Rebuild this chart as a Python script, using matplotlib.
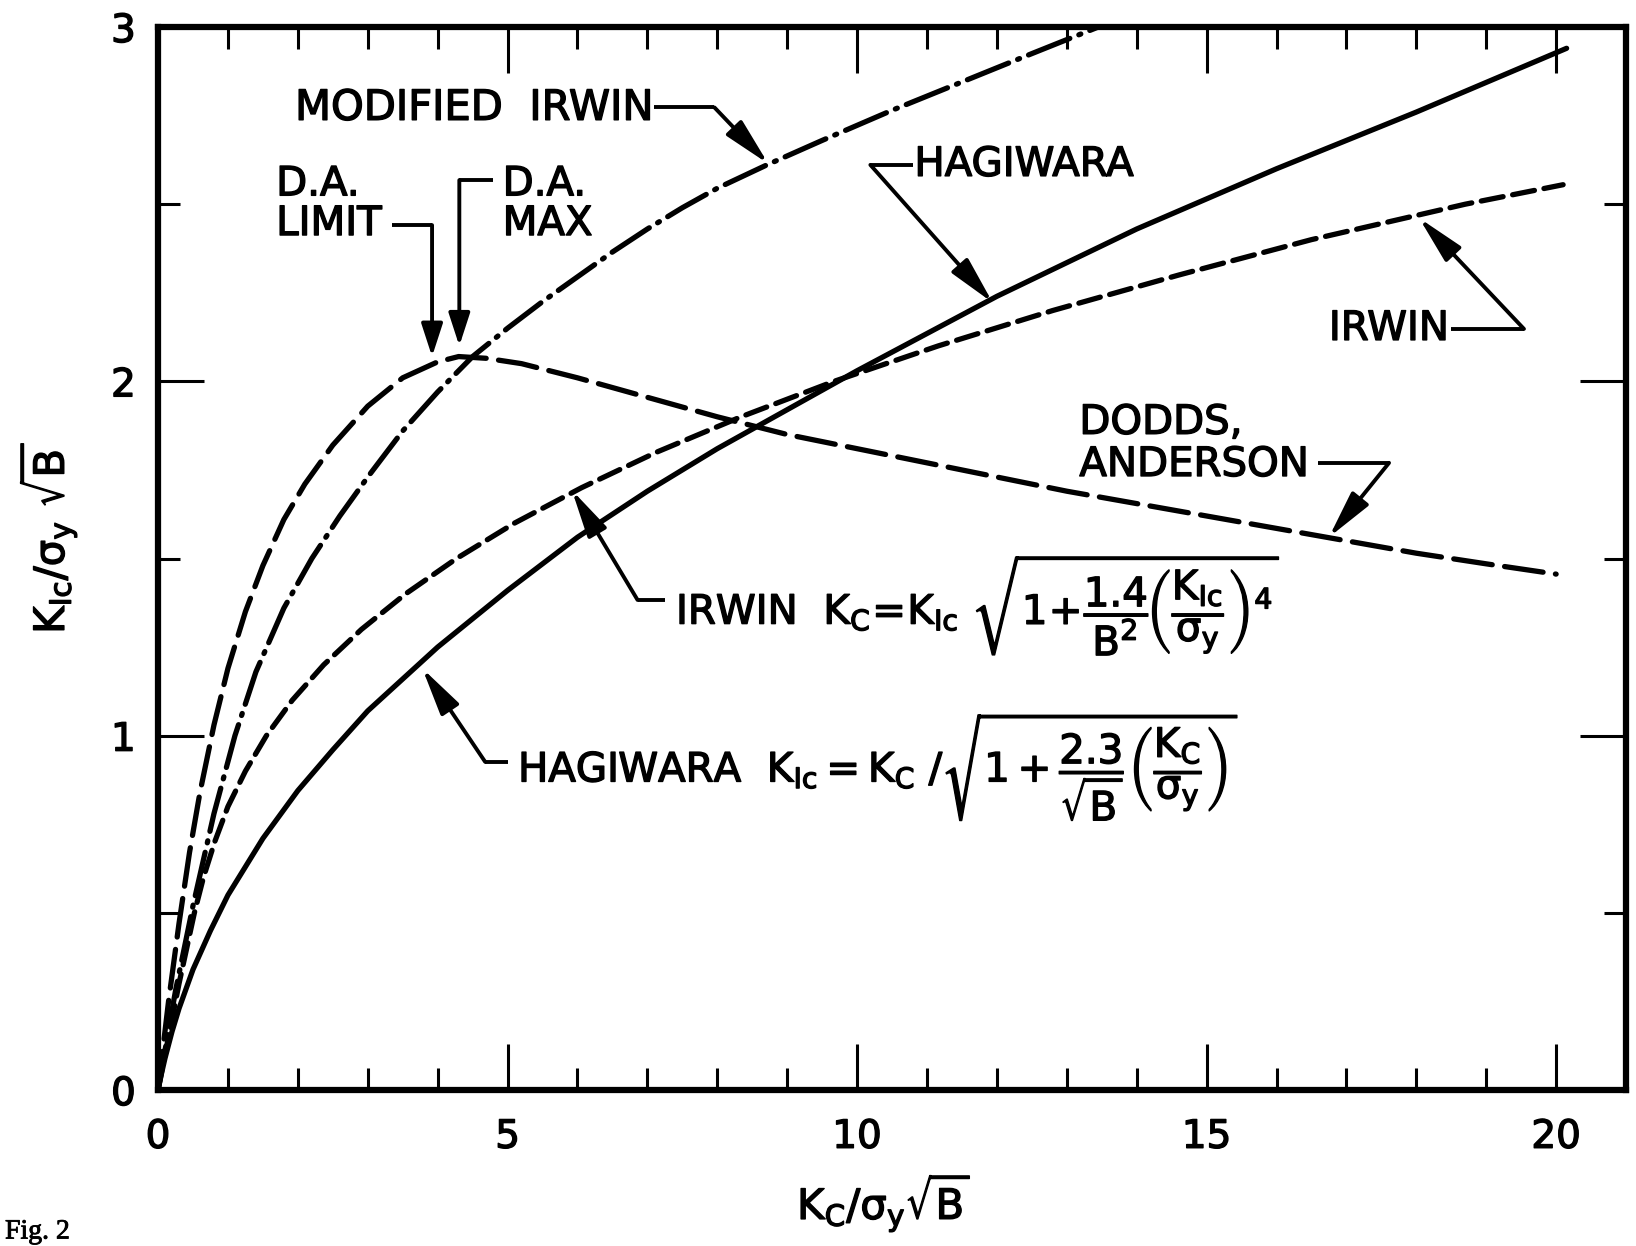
"""Plastic-zone correction curves: K_Ic vs K_c, both normalised by sigma_y*sqrt(B)."""

import matplotlib
matplotlib.use("Agg")
import matplotlib.pyplot as plt
import matplotlib.patheffects as pe
from matplotlib.ticker import MultipleLocator

plt.rcParams.update({
    'font.family': 'DejaVu Sans',
    'font.size': 28,
    'mathtext.fontset': 'dejavusans',
    'mathtext.default': 'regular',
    'lines.scale_dashes': False,
})

# curves, x = Kc/(sy*sqrt(B)), y = KIc/(sy*sqrt(B))
hagiwara_x = [0, 0.05, 0.1, 0.2, 0.3, 0.5, 0.75, 1, 1.5, 2, 2.5, 3, 3.5, 4, 5, 6, 7, 8,
              9, 10, 12, 14, 16, 18, 20.15]
hagiwara_y = [0, 0.047, 0.09, 0.165, 0.23, 0.34, 0.45, 0.55, 0.71, 0.845, 0.96, 1.07,
              1.16, 1.25, 1.41, 1.56, 1.69, 1.81, 1.92, 2.03, 2.24, 2.43, 2.60, 2.76, 2.94]

irwin_x = [0, 0.1, 0.2, 0.3, 0.41, 0.52, 0.65, 0.81, 1.0, 1.25, 1.55, 1.92, 2.37, 2.91,
           3.54, 4.27, 5.1, 6.06, 7.13, 8.34, 9.67, 11.16, 12.8, 14.6, 16.5, 18.7, 20.1]
irwin_y = [0, 0.1, 0.2, 0.3, 0.4, 0.5, 0.6, 0.7, 0.8, 0.9, 1.0, 1.1, 1.2, 1.3, 1.4, 1.5,
           1.6, 1.7, 1.8, 1.9, 2.0, 2.1, 2.2, 2.3, 2.4, 2.5, 2.555]

mod_irwin_x = [0, 0.25, 0.5, 0.8, 1.1, 1.4, 1.8, 2.2, 2.6, 3.0, 3.5, 4.0, 4.5, 5.0, 5.5,
               6.0, 6.5, 7.0, 7.5, 8.0, 8.7, 9.5, 10.5, 11.5, 12.5, 13.45]
mod_irwin_y = [0, 0.28, 0.52, 0.78, 1.0, 1.18, 1.36, 1.5, 1.62, 1.73, 1.86, 1.97, 2.07,
               2.15, 2.225, 2.295, 2.365, 2.43, 2.49, 2.545, 2.61, 2.68, 2.765, 2.845,
               2.925, 3.0]

da_x = [0, 0.15, 0.3, 0.45, 0.6, 0.8, 1.0, 1.25, 1.5, 1.8, 2.1, 2.5, 3.0, 3.5, 4.0, 4.3,
        4.7, 5.2, 6.0, 7.0, 8.0, 9.0, 10.0, 11.0, 12.0, 13.0, 14.0, 15.0, 16.0, 17.0,
        18.0, 19.0, 20.0]
da_y = [0, 0.25, 0.47, 0.67, 0.84, 1.03, 1.19, 1.35, 1.48, 1.61, 1.71, 1.82, 1.93, 2.01,
        2.055, 2.07, 2.065, 2.05, 2.01, 1.955, 1.90, 1.85, 1.81, 1.77, 1.73, 1.69, 1.655,
        1.62, 1.585, 1.55, 1.515, 1.485, 1.456]

fig = plt.figure(figsize=(16.36, 12.46), dpi=100)
ax = fig.add_axes([0.0966, 0.1252, 0.8973, 0.8531])

lw = 3.8
ax.plot(hagiwara_x, hagiwara_y, color='k', lw=lw, solid_capstyle='round')
ax.plot(irwin_x, irwin_y, color='k', lw=lw, dashes=(16, 7), dash_capstyle='round')
ax.plot(mod_irwin_x, mod_irwin_y, color='k', lw=lw, dashes=(32, 7, 1.5, 7),
        dash_capstyle='round')
ax.plot(da_x, da_y, color='k', lw=lw, dashes=(28, 9), dash_capstyle='round')

ax.set_xlim(0, 21)
ax.set_ylim(0, 3)
ax.xaxis.set_major_locator(MultipleLocator(5))
ax.xaxis.set_minor_locator(MultipleLocator(1))
ax.yaxis.set_major_locator(MultipleLocator(1))
ax.yaxis.set_minor_locator(MultipleLocator(0.5))
ax.tick_params(which='both', direction='in', top=True, right=True, width=2.2,
               labelsize=28)
ax.tick_params(which='major', length=33)
ax.tick_params(which='minor', length=16)
ax.tick_params(axis='x', pad=20)
ax.tick_params(axis='y', pad=16)
for s in ax.spines.values():
    s.set_linewidth(4.5)

ink = [pe.withStroke(linewidth=1.0, foreground='k')]

fig.text(884 / 1636, 1 - 1203 / 1246, r'$K_C/\sigma_y\sqrt{B}$', fontsize=30,
         ha='center', va='center', path_effects=ink)
fig.text(48 / 1636, 1 - 538 / 1246, r'$K_{Ic}/\sigma_y\ \sqrt{B}$', fontsize=30,
         ha='center', va='center', rotation=90, path_effects=ink)
fig.text(5 / 1636, 1 - 1232 / 1246, 'Fig. 2', family='Liberation Serif', fontsize=20,
         ha='left', va='center', path_effects=[pe.withStroke(linewidth=0.6, foreground='k')])
for lab in ax.get_xticklabels() + ax.get_yticklabels():
    lab.set_path_effects(ink)


def leader(path, tip, head=2.9):
    xs, ys = zip(*path)
    ax.plot(xs, ys, color='k', lw=2.8, solid_capstyle='butt', solid_joinstyle='miter')
    ax.annotate('', xy=tip, xytext=path[-1],
                arrowprops=dict(arrowstyle=f'-|>,head_length={head},head_width=0.65',
                                mutation_scale=10, color='k', lw=2.8,
                                shrinkA=0, shrinkB=0))


txt = dict(fontsize=29, va='center', path_effects=ink)

ax.text(1.96, 2.772, 'MODIFIED  IRWIN', ha='left', fontsize=30, va='center',
        path_effects=ink)
leader([(7.1, 2.773), (7.96, 2.773)], (8.73, 2.614))

ax.text(10.82, 2.611, 'HAGIWARA', ha='left', **txt)
leader([(10.80, 2.611), (10.19, 2.611)], (11.94, 2.222))

ax.text(1.69, 2.556, 'D.A.', ha='left', **txt)
ax.text(1.69, 2.444, 'LIMIT', ha='left', **txt)
leader([(3.35, 2.441), (3.92, 2.441)], (3.92, 2.07), head=2.0)

ax.text(4.93, 2.556, 'D.A.', ha='left', **txt)
ax.text(4.93, 2.444, 'MAX', ha='left', **txt)
leader([(4.79, 2.568), (4.31, 2.568)], (4.31, 2.10), head=2.0)

ax.text(18.47, 2.148, 'IRWIN', ha='right', **txt)
leader([(18.5, 2.148), (19.54, 2.148)], (18.04, 2.461))

ax.text(13.18, 1.883, 'DODDS,', ha='left', **txt)
ax.text(13.18, 1.764, 'ANDERSON', ha='left', **txt)
leader([(16.6, 1.770), (17.61, 1.770)], (16.75, 1.56))

ax.text(7.41, 1.37,
        r'IRWIN  $K_C\!=\!K_{Ic}\ \sqrt{1\!+\!\dfrac{1.4}{B^2}\!\left(\dfrac{K_{Ic}}{\sigma_y}\right)^4}$',
        ha='left', **txt)
leader([(7.25, 1.383), (6.86, 1.383)], (5.92, 1.693))

ax.text(5.15, 0.912,
        r'HAGIWARA  $K_{Ic} = K_C\ /\sqrt{1+\dfrac{2.3}{\sqrt{B}}\left(\dfrac{K_C}{\sigma_y}\right)}$',
        ha='left', **txt)
leader([(5.0, 0.926), (4.68, 0.926)], (3.78, 1.19))

fig.savefig('out.png', dpi=100)
